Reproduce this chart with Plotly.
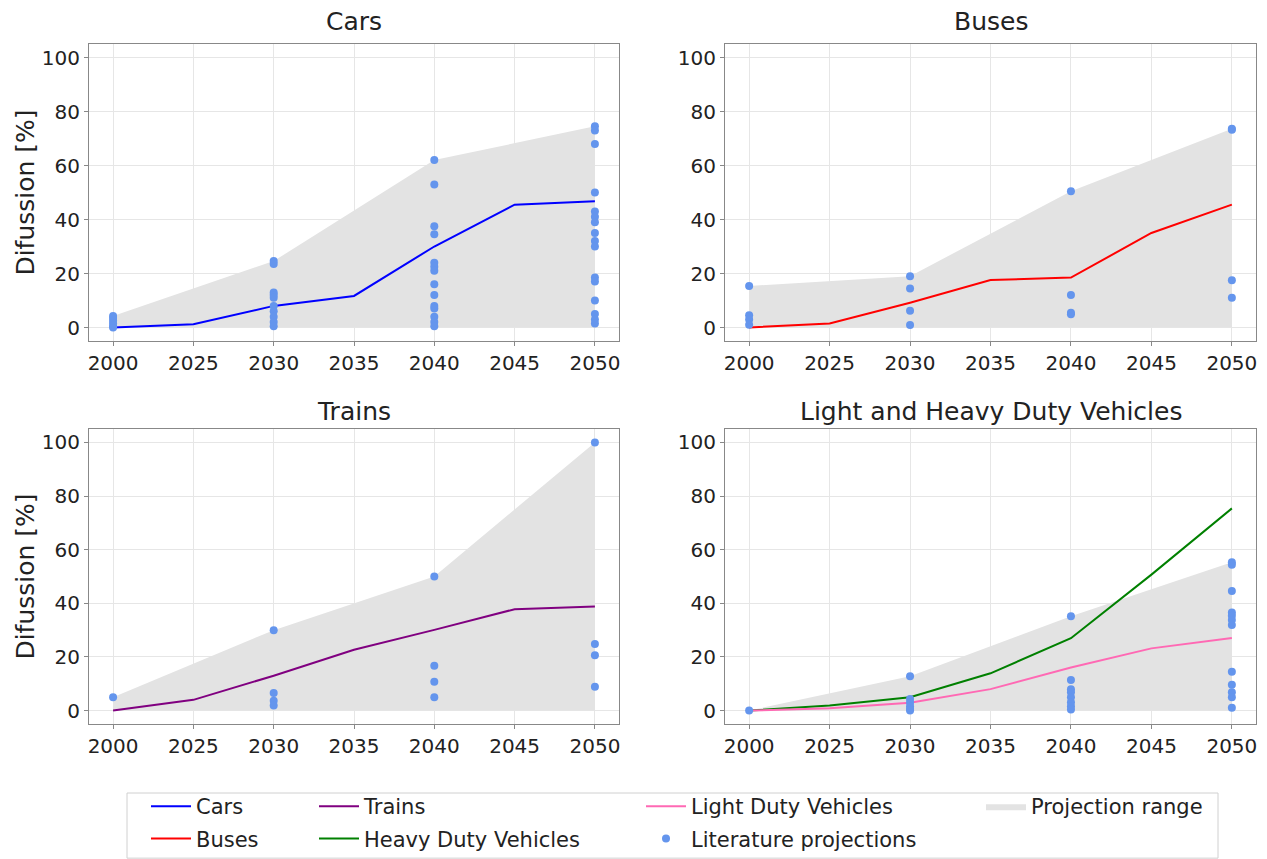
import plotly.graph_objects as go
from plotly.subplots import make_subplots

years = ['2000', '2025', '2030', '2035', '2040', '2045', '2050']
lit_years = ['2000', '2030', '2040', '2050']

# model diffusion paths [%]
cars_line = [0, 1.2, 8, 11.7, 30, 45.5, 46.8]
buses_line = [0, 1.5, 9.2, 17.6, 18.5, 35, 45.5]
trains_line = [0, 4, 13, 22.7, 30.1, 37.8, 38.8]
heavy_line = [0, 1.9, 5, 13.9, 27, 50.7, 75.4]
light_line = [0, 0.9, 2.9, 8, 16.1, 23.2, 27.1]

# literature projections, one list per year in lit_years
cars_lit = [
    [0, 0.5, 1.5, 2.5, 3.5, 4.3],
    [24.6, 23.5, 13, 12, 11, 8, 6, 4, 2, 0.5],
    [62, 53, 37.5, 34.5, 24, 22.5, 21, 16, 12, 8, 7, 4, 2, 0.5],
    [74.5, 73, 68, 50, 43, 41, 39, 35, 32, 30, 18.5, 17, 10, 5, 3, 1.5],
]
buses_lit = [
    [15.4, 4.5, 3, 1],
    [19, 14.4, 6.2, 0.9],
    [50.5, 12, 5.5, 4.9],
    [73.6, 73.2, 17.5, 11],
]
trains_lit = [
    [5],
    [30, 6.6, 3.7, 1.9],
    [50, 16.7, 10.8, 5],
    [100, 24.8, 20.6, 8.9],
]
lhdv_lit = [
    [0],
    [12.8, 4.3, 3, 1.6, 0.6, 0],
    [35.2, 11.4, 8, 6.8, 5, 3.1, 1.6, 0.4],
    [55.3, 54.4, 44.6, 36.6, 35.4, 33.8, 31.9, 14.5, 9.6, 6.8, 5, 1.1],
]

panel_titles = ['Cars', 'Buses', 'Trains', 'Light and Heavy Duty Vehicles']

FONT = 'DejaVu Sans'
LIT_COLOR = '#6495ED'
FILL_COLOR = '#e3e3e3'

fig = make_subplots(rows=2, cols=2, subplot_titles=panel_titles,
                    horizontal_spacing=0.08, vertical_spacing=0.1)


def add_panel(row, col, lit, lines, show_range, show_lit):
    upper = [max(v) for v in lit]
    fig.add_trace(go.Scatter(
        x=lit_years, y=upper, mode='lines', line=dict(width=0),
        fill='tozeroy', fillcolor=FILL_COLOR, name='Projection range',
        showlegend=show_range, legend='legend4', hoverinfo='skip'
    ), row=row, col=col)
    for name, vals, color, leg in lines:
        fig.add_trace(go.Scatter(
            x=years, y=vals, mode='lines', line=dict(color=color, width=2),
            name=name, legend=leg
        ), row=row, col=col)
    xs, ys = [], []
    for yr, vals in zip(lit_years, lit):
        xs += [yr] * len(vals)
        ys += vals
    fig.add_trace(go.Scatter(
        x=xs, y=ys, mode='markers', marker=dict(color=LIT_COLOR, size=8),
        name='Literature projections', showlegend=show_lit, legend='legend3'
    ), row=row, col=col)


add_panel(1, 1, cars_lit, [('Cars', cars_line, 'blue', 'legend')], True, True)
add_panel(1, 2, buses_lit, [('Buses', buses_line, 'red', 'legend')], False, False)
add_panel(2, 1, trains_lit, [('Trains', trains_line, 'purple', 'legend2')], False, False)
add_panel(2, 2, lhdv_lit, [('Heavy Duty Vehicles', heavy_line, 'green', 'legend2'),
                           ('Light Duty Vehicles', light_line, 'hotpink', 'legend3')],
          False, False)

# legend ranks: first row items first
ranks = {'Cars': 1, 'Buses': 2, 'Trains': 1, 'Heavy Duty Vehicles': 2,
         'Light Duty Vehicles': 1, 'Literature projections': 2, 'Projection range': 1}
for tr in fig.data:
    tr.legendrank = ranks.get(tr.name, 5)
    tr.legendgroup = tr.name

W, H = 1267, 859


def px(x):
    return x / W


def py(y):
    return 1 - y / H


xdom = [[px(89), px(619)], [px(725), px(1256)]]
ydom = [[py(341), py(44)], [py(724), py(429)]]

for r in (1, 2):
    for c in (1, 2):
        fig.update_xaxes(type='category', categoryorder='array', categoryarray=years,
                         range=[-0.3, 6.3], domain=xdom[c - 1], automargin=False,
                         showgrid=True, gridcolor='#e6e6e6', gridwidth=1,
                         showline=True, mirror=True, linecolor='#888', linewidth=1,
                         ticks='outside', ticklen=4, tickcolor='#888',
                         tickfont=dict(size=20, color='#222'), row=r, col=c)
        fig.update_yaxes(range=[-5, 105], tickvals=[0, 20, 40, 60, 80, 100],
                         domain=ydom[r - 1], zeroline=False, automargin=False,
                         showgrid=True, gridcolor='#e6e6e6', gridwidth=1,
                         showline=True, mirror=True, linecolor='#888', linewidth=1,
                         ticks='outside', ticklen=4, tickcolor='#888',
                         tickfont=dict(size=20, color='#222'), row=r, col=c)

for r in (1, 2):
    fig.update_yaxes(title=dict(text='Difussion [%]', font=dict(size=25, color='#222'),
                                standoff=0), row=r, col=1)

# subplot titles
title_y = [py(22), py(22), py(411), py(411)]
title_x = [(xdom[0][0] + xdom[0][1]) / 2, (xdom[1][0] + xdom[1][1]) / 2] * 2
for ann, tx, ty in zip(fig.layout.annotations, title_x, title_y):
    ann.update(x=tx, y=ty, yanchor='middle', font=dict(size=25, color='#222', family=FONT))

legend_font = dict(size=21, color='#222', family=FONT)
leg_common = dict(orientation='v', xanchor='left', bgcolor='rgba(0,0,0,0)',
                  font=legend_font, tracegroupgap=2, itemwidth=40)

fig.update_layout(
    width=W, height=H,
    margin=dict(l=0, r=0, t=0, b=0),
    paper_bgcolor='white', plot_bgcolor='white',
    font=dict(family=FONT, color='#222'),
    legend=dict(x=px(146), y=0, yanchor='bottom', **leg_common),
    legend2=dict(x=px(314), y=0, yanchor='bottom', **leg_common),
    legend3=dict(x=px(641), y=0, yanchor='bottom', **leg_common),
    legend4=dict(x=px(981), y=py(786), yanchor='top', **leg_common),
    shapes=[dict(type='rect', xref='paper', yref='paper',
                 x0=px(127), x1=px(1218), y0=0.001, y1=py(793),
                 line=dict(color='#d0d0d0', width=1), fillcolor='rgba(0,0,0,0)')],
)

# drop the default page margin so the figure fills the window exactly
fig.write_html("out.html", config={'displayModeBar': False},
               post_script="document.body.style.margin='0';")
